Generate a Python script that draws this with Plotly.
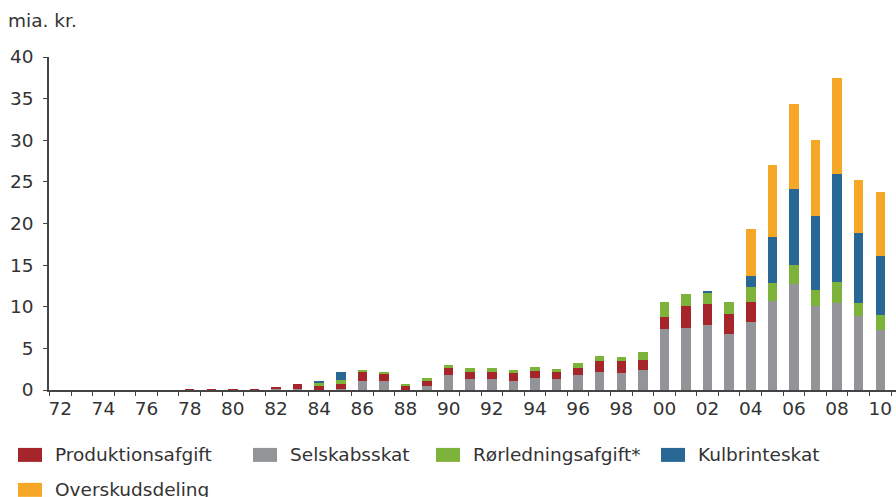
import plotly.graph_objects as go

# Statens indtægter fra Nordsøen, mia. kr., 1972-2010
years = list(range(1972, 2011))

selskabsskat = [0, 0, 0, 0, 0, 0, 0, 0, 0, 0,
                0.18, 0.18, 0.05, 0.10, 1.14, 1.14, 0.05, 0.54, 1.86, 1.38,
                1.38, 1.14, 1.50, 1.38, 1.86, 2.20, 2.10, 2.45, 7.37, 7.48,
                7.84, 6.77, 8.20, 10.70, 12.75, 10.10, 10.40, 8.90, 7.25]

produktionsafgift = [0, 0, 0, 0, 0, 0, 0.12, 0.12, 0.12, 0.12,
                     0.24, 0.60, 0.49, 0.68, 1.06, 0.84, 0.49, 0.60, 0.84, 0.82,
                     0.82, 0.96, 0.83, 0.82, 0.84, 1.33, 1.43, 1.20, 1.43, 2.62,
                     2.52, 2.39, 2.40, 0, 0, 0, 0, 0, 0]

roerledningsafgift = [0, 0, 0, 0, 0, 0, 0, 0, 0, 0,
                      0, 0, 0.36, 0.48, 0.25, 0.22, 0.24, 0.36, 0.35, 0.50,
                      0.50, 0.35, 0.47, 0.37, 0.60, 0.60, 0.47, 0.95, 1.80, 1.46,
                      1.32, 1.44, 1.80, 2.17, 2.28, 1.90, 2.60, 1.57, 1.80]

kulbrinteskat = [0, 0, 0, 0, 0, 0, 0, 0, 0, 0,
                 0, 0, 0.12, 0.94, 0, 0, 0, 0, 0, 0,
                 0, 0, 0, 0, 0, 0, 0, 0, 0, 0,
                 0.12, 0, 1.30, 5.53, 9.07, 8.90, 12.90, 8.38, 7.05]

overskudsdeling = [0, 0, 0, 0, 0, 0, 0, 0, 0, 0,
                   0, 0, 0, 0, 0, 0, 0, 0, 0, 0,
                   0, 0, 0, 0, 0, 0, 0, 0, 0, 0,
                   0, 0, 5.64, 8.60, 10.20, 9.10, 11.60, 6.35, 7.70]

tick_years = list(range(1972, 2011, 2))
tick_labels = [f"{y % 100:02d}" for y in tick_years]
y_ticks = list(range(0, 41, 5))

# stacking order from the bottom up
series = [
    ("Selskabsskat", selskabsskat, "#939498"),
    ("Produktionsafgift", produktionsafgift, "#A6252A"),
    ("Rørledningsafgift*", roerledningsafgift, "#7DB33A"),
    ("Kulbrinteskat", kulbrinteskat, "#296795"),
    ("Overskudsdeling", overskudsdeling, "#F5A725"),
]
colors = {name: col for name, _, col in series}

FONT = "DejaVu Sans"
TXT = "#333333"
W, H = 896, 497
ML, MR, MT, MB = 49, 0, 57, 106.5
PW, PH = W - ML - MR, H - MT - MB


def px_x(x):
    return (x - ML) / PW


def px_y(y):
    return (H - MB - y) / PH


fig = go.Figure()
for name, vals, col in series:
    fig.add_trace(go.Bar(
        x=years, y=vals, name=name, width=0.44,
        marker=dict(color=col, line=dict(width=0)),
        showlegend=False,
    ))

# legend drawn as swatches + labels, in reading order
legend_items = [
    ("Produktionsafgift", 18, 455.5),
    ("Selskabsskat", 253, 455.5),
    ("Rørledningsafgift*", 436, 455.5),
    ("Kulbrinteskat", 661, 455.5),
    ("Overskudsdeling", 18, 490.5),
]
shapes = []
annotations = []
for name, bx, cy in legend_items:
    shapes.append(dict(
        type="rect", xref="paper", yref="paper",
        x0=px_x(bx), x1=px_x(bx + 24), y0=px_y(cy - 7), y1=px_y(cy + 7),
        fillcolor=colors[name], line=dict(width=0), layer="above",
    ))
    annotations.append(dict(
        text=name, xref="paper", yref="paper", x=px_x(bx + 35), y=px_y(cy),
        xanchor="left", yanchor="middle", showarrow=False,
        font=dict(family=FONT, size=18.5, color=TXT),
    ))

annotations.append(dict(
    text="mia. kr.", xref="paper", yref="paper", x=px_x(6), y=px_y(20),
    xanchor="left", yanchor="middle", showarrow=False,
    font=dict(family=FONT, size=18.5, color=TXT),
))

fig.update_layout(
    width=W, height=H,
    margin=dict(l=ML, r=MR, t=MT, b=MB, pad=0),
    paper_bgcolor="white", plot_bgcolor="white",
    barmode="stack", bargap=0,
    showlegend=False,
    font=dict(family=FONT, size=18.5, color=TXT),
    shapes=shapes, annotations=annotations,
    xaxis=dict(
        range=[1971.48, 2010.73],
        tickmode="array", tickvals=tick_years, ticktext=tick_labels,
        ticks="outside", ticklen=0, tickcolor="#444444",
        minor=dict(tickmode="array",
                   tickvals=[y + 0.5 for y in range(1971, 2011)],
                   ticks="outside", ticklen=4, tickwidth=1,
                   tickcolor="#444444", showgrid=False),
        showline=True, linecolor="#444444", linewidth=2,
        showgrid=False, zeroline=False,
        ticklabelstandoff=1,
        tickfont=dict(family=FONT, size=18.5, color=TXT),
    ),
    yaxis=dict(
        range=[0, 40], tickmode="array", tickvals=y_ticks,
        ticks="outside", ticklen=4, tickwidth=1, tickcolor="#444444",
        showline=True, linecolor="#444444", linewidth=1.5,
        showgrid=False, zeroline=False,
        ticklabelstandoff=6,
        tickfont=dict(family=FONT, size=18.5, color=TXT),
    ),
)

fig.write_html("out.html")
